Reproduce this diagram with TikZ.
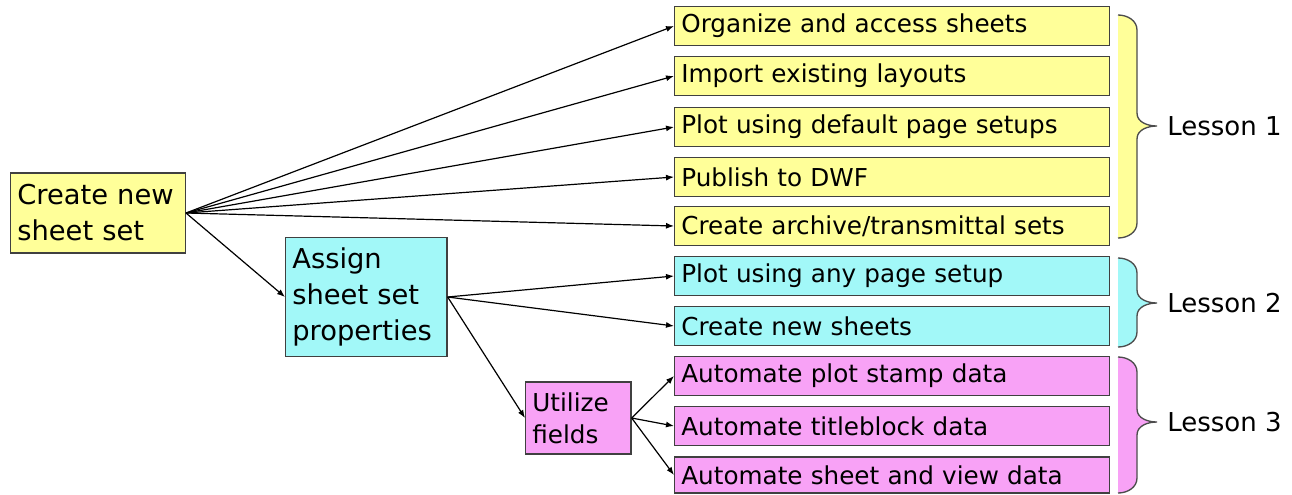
\documentclass[tikz,border=0pt]{standalone}
\usepackage{fontspec}
\setmainfont{DejaVu Sans}
\usetikzlibrary{arrows.meta}
\definecolor{boxyellow}{HTML}{FFFF99}
\definecolor{boxcyan}{HTML}{A2F8F8}
\definecolor{boxpink}{HTML}{F8A2F6}
\begin{document}
\begin{tikzpicture}
[x=0.75pt,y=-0.75pt,%
  box/.style={draw=black!75,line width=1pt,anchor=west,inner xsep=5pt,inner ysep=0pt,align=left},%
  item/.style={box,minimum height=29pt,text width=316pt,font=\fontsize{18.5}{22}\selectfont},%
  big/.style={box,font=\fontsize{20.5}{27}\selectfont},%
  link/.style={-{Latex[length=6pt,width=4.5pt]},line width=0.9pt},%
  lesson/.style={anchor=west,inner sep=0pt,font=\fontsize{19.5}{22}\selectfont},%
  curl/.style={draw=black!70,line width=1pt}]
\useasboundingbox (0,0) rectangle (1292,494);
\node[big,fill=boxyellow,minimum height=60pt,text width=121pt] (create) at (10,213) {Create new\\sheet set};
\node[big,fill=boxcyan,minimum height=89pt,text width=111pt] (assign) at (285,297) {Assign\\sheet set\\properties};
\node[box,fill=boxpink,minimum height=54pt,text width=69pt,font=\fontsize{18.5}{24}\selectfont] (utilize) at (525,418) {Utilize\\fields};
\node[item,fill=boxyellow] (organize) at (674,26) {Organize and access sheets};
\node[item,fill=boxyellow] (import) at (674,76) {Import existing layouts};
\node[item,fill=boxyellow] (plotdef) at (674,127) {Plot using default page setups};
\node[item,fill=boxyellow] (publish) at (674,177) {Publish to DWF};
\node[item,fill=boxyellow] (archive) at (674,226) {Create archive/transmittal sets};
\node[item,fill=boxcyan] (plotany) at (674,276) {Plot using any page setup};
\node[item,fill=boxcyan] (newsheets) at (674,326) {Create new sheets};
\node[item,fill=boxpink] (stamp) at (674,376) {Automate plot stamp data};
\node[item,fill=boxpink] (titleblock) at (674,426) {Automate titleblock data};
\node[item,fill=boxpink,minimum height=27pt] (viewdata) at (674,475) {Automate sheet and view data};
\draw[link] (create.east) -- (organize.west);
\draw[link] (create.east) -- (import.west);
\draw[link] (create.east) -- (plotdef.west);
\draw[link] (create.east) -- (publish.west);
\draw[link] (create.east) -- (archive.west);
\draw[link] (create.east) -- (assign.west);
\draw[link] (assign.east) -- (plotany.west);
\draw[link] (assign.east) -- (newsheets.west);
\draw[link] (assign.east) -- (utilize.west);
\draw[link] (utilize.east) -- (stamp.west);
\draw[link] (utilize.east) -- (titleblock.west);
\draw[link] (utilize.east) -- (viewdata.west);
\foreach \ya/\ym/\yb/\c in {15/126/238/boxyellow,258/303/347/boxcyan,357/422/493/boxpink}{
  \fill[\c] (1118,\ya) to[out=0,in=90] (1137,\ya+15) -- (1137,\ym-13) to[out=-90,in=180] (1157,\ym)
    to[out=180,in=90] (1137,\ym+13) -- (1137,\yb-15) to[out=-90,in=0] (1118,\yb) -- cycle;
  \draw[curl] (1118,\ya) to[out=0,in=90] (1137,\ya+15) -- (1137,\ym-13) to[out=-90,in=180] (1157,\ym)
    to[out=180,in=90] (1137,\ym+13) -- (1137,\yb-15) to[out=-90,in=0] (1118,\yb);
}
\node[lesson] (lessonone) at (1167,126) {Lesson 1};
\node[lesson] (lessontwo) at (1167,303) {Lesson 2};
\node[lesson] (lessonthree) at (1167,422) {Lesson 3};
\end{tikzpicture}
\end{document}
